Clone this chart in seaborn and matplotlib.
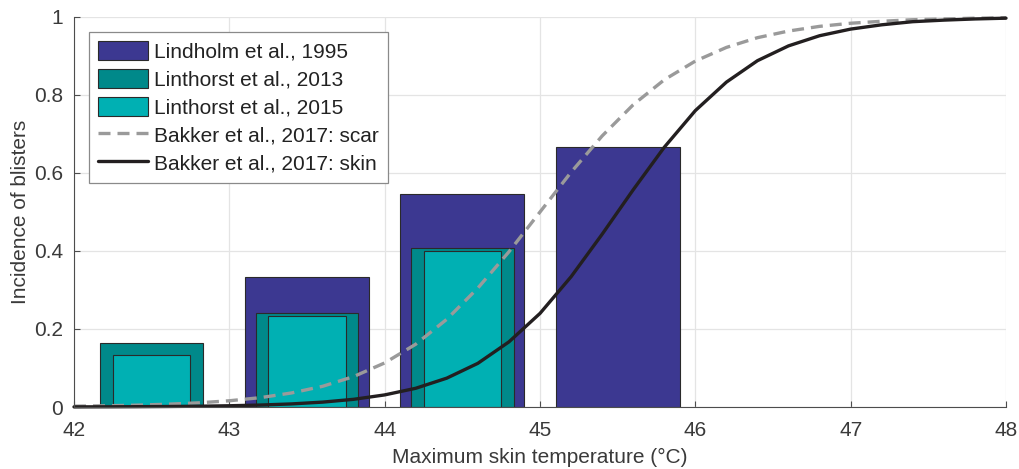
import matplotlib
matplotlib.use("Agg")
import matplotlib.pyplot as plt
from matplotlib.patches import Patch
from matplotlib.lines import Line2D
import seaborn as sns
import pandas as pd

# Observed blister incidence per 1 °C bin (bin centres in °C)
lindholm_centres = [43.5, 44.5, 45.5]
lindholm_values = [0.333, 0.545, 0.667]

linthorst2013_centres = [42.5, 43.5, 44.5]
linthorst2013_values = [0.163, 0.240, 0.408]

linthorst2015_centres = [42.5, 43.5, 44.5]
linthorst2015_values = [0.133, 0.234, 0.400]

# Dose-response curves (Bakker et al., 2017) sampled every 0.2 °C
temp_grid = [42.0, 42.2, 42.4, 42.6, 42.8, 43.0, 43.2, 43.4, 43.6, 43.8,
             44.0, 44.2, 44.4, 44.6, 44.8, 45.0, 45.2, 45.4, 45.6, 45.8,
             46.0, 46.2, 46.4, 46.6, 46.8, 47.0, 47.2, 47.4, 47.6, 47.8, 48.0]
scar_curve = [0.0021, 0.0031, 0.0047, 0.0071, 0.0106, 0.016, 0.024, 0.036,
              0.053, 0.078, 0.113, 0.161, 0.225, 0.305, 0.398, 0.500, 0.602,
              0.695, 0.775, 0.839, 0.887, 0.922, 0.947, 0.964, 0.976, 0.984,
              0.989, 0.993, 0.995, 0.997, 0.998]
skin_curve = [0.0003, 0.0005, 0.0008, 0.0013, 0.0020, 0.0032, 0.0050, 0.0079,
              0.0125, 0.0197, 0.031, 0.048, 0.074, 0.112, 0.167, 0.240, 0.334,
              0.443, 0.557, 0.666, 0.760, 0.833, 0.888, 0.926, 0.952, 0.969,
              0.980, 0.988, 0.992, 0.995, 0.997]

series_labels = ["Lindholm et al., 1995", "Linthorst et al., 2013",
                 "Linthorst et al., 2015", "Bakker et al., 2017: scar",
                 "Bakker et al., 2017: skin"]
x_ticks = [42, 43, 44, 45, 46, 47, 48]
y_ticks = [0, 0.2, 0.4, 0.6, 0.8, 1]
y_tick_labels = ["0", "0.2", "0.4", "0.6", "0.8", "1"]

sns.set_theme(style="whitegrid")
plt.rcParams["font.family"] = ["Liberation Sans", "DejaVu Sans"]
text_color = "#3a3a3a"

c_lindholm = "#3c3891"
c_2013 = "#00898a"
c_2015 = "#00b0b3"
c_scar = "#9a9a9a"
c_skin = "#231f20"
edge = "#2a2a2a"

fig = plt.figure(figsize=(10.2, 4.69), dpi=100)
ax = fig.add_axes([74 / 1020, 62 / 469, 932 / 1020, 390 / 469])

ax.bar(lindholm_centres, lindholm_values, width=0.8, color=c_lindholm,
       edgecolor=edge, linewidth=0.8, zorder=2)
ax.bar(linthorst2013_centres, linthorst2013_values, width=0.66, color=c_2013,
       edgecolor=edge, linewidth=0.8, zorder=3)
ax.bar(linthorst2015_centres, linthorst2015_values, width=0.5, color=c_2015,
       edgecolor=edge, linewidth=0.8, zorder=4)

curves = pd.DataFrame({"temp": temp_grid, "scar": scar_curve, "skin": skin_curve})
sns.lineplot(data=curves, x="temp", y="scar", ax=ax, color=c_scar,
             linewidth=2.4, zorder=5, clip_on=False)
ax.lines[-1].set_dashes((3.6, 2.1))
sns.lineplot(data=curves, x="temp", y="skin", ax=ax, color=c_skin,
             linewidth=2.4, zorder=6, clip_on=False)

ax.set_xlim(42, 48)
ax.set_ylim(0, 1)
ax.set_xticks(x_ticks)
ax.set_xticklabels([str(t) for t in x_ticks])
ax.set_yticks(y_ticks)
ax.set_yticklabels(y_tick_labels)

ax.grid(True, color="#e4e4e4", linewidth=0.9)
ax.set_axisbelow(True)
for side in ["top", "right"]:
    ax.spines[side].set_visible(False)
for side in ["left", "bottom"]:
    ax.spines[side].set_color("#4d4d4d")
    ax.spines[side].set_linewidth(0.8)
    ax.spines[side].set_zorder(7)

ax.tick_params(axis="both", direction="in", length=4.5, width=0.8,
               color="#4d4d4d", labelsize=15, labelcolor=text_color,
               left=True, bottom=True)
ax.tick_params(axis="x", pad=10)
ax.tick_params(axis="y", pad=8)
ax.set_xlabel("Maximum skin temperature (°C)", fontsize=15, color=text_color,
              labelpad=6)
ax.set_ylabel("Incidence of blisters", fontsize=15, color=text_color,
              labelpad=3)

handles = [
    Patch(facecolor=c_lindholm, edgecolor=edge, linewidth=0.8),
    Patch(facecolor=c_2013, edgecolor=edge, linewidth=0.8),
    Patch(facecolor=c_2015, edgecolor=edge, linewidth=0.8),
    Line2D([], [], color=c_scar, linewidth=2.4, dashes=(3.6, 2.1)),
    Line2D([], [], color=c_skin, linewidth=2.4),
]
leg = ax.legend(handles, series_labels, loc="upper left",
                bbox_to_anchor=(15 / 932, 375 / 390), borderaxespad=0,
                fontsize=15, frameon=True, fancybox=False, framealpha=1,
                edgecolor="#8a8a8a", handlelength=2.4, handleheight=1.0,
                handletextpad=0.25, labelspacing=0.36, borderpad=0.45)
leg.get_frame().set_linewidth(0.9)
leg.set_zorder(10)
for t in leg.get_texts():
    t.set_color("#222222")

fig.savefig("out.png", dpi=100)
